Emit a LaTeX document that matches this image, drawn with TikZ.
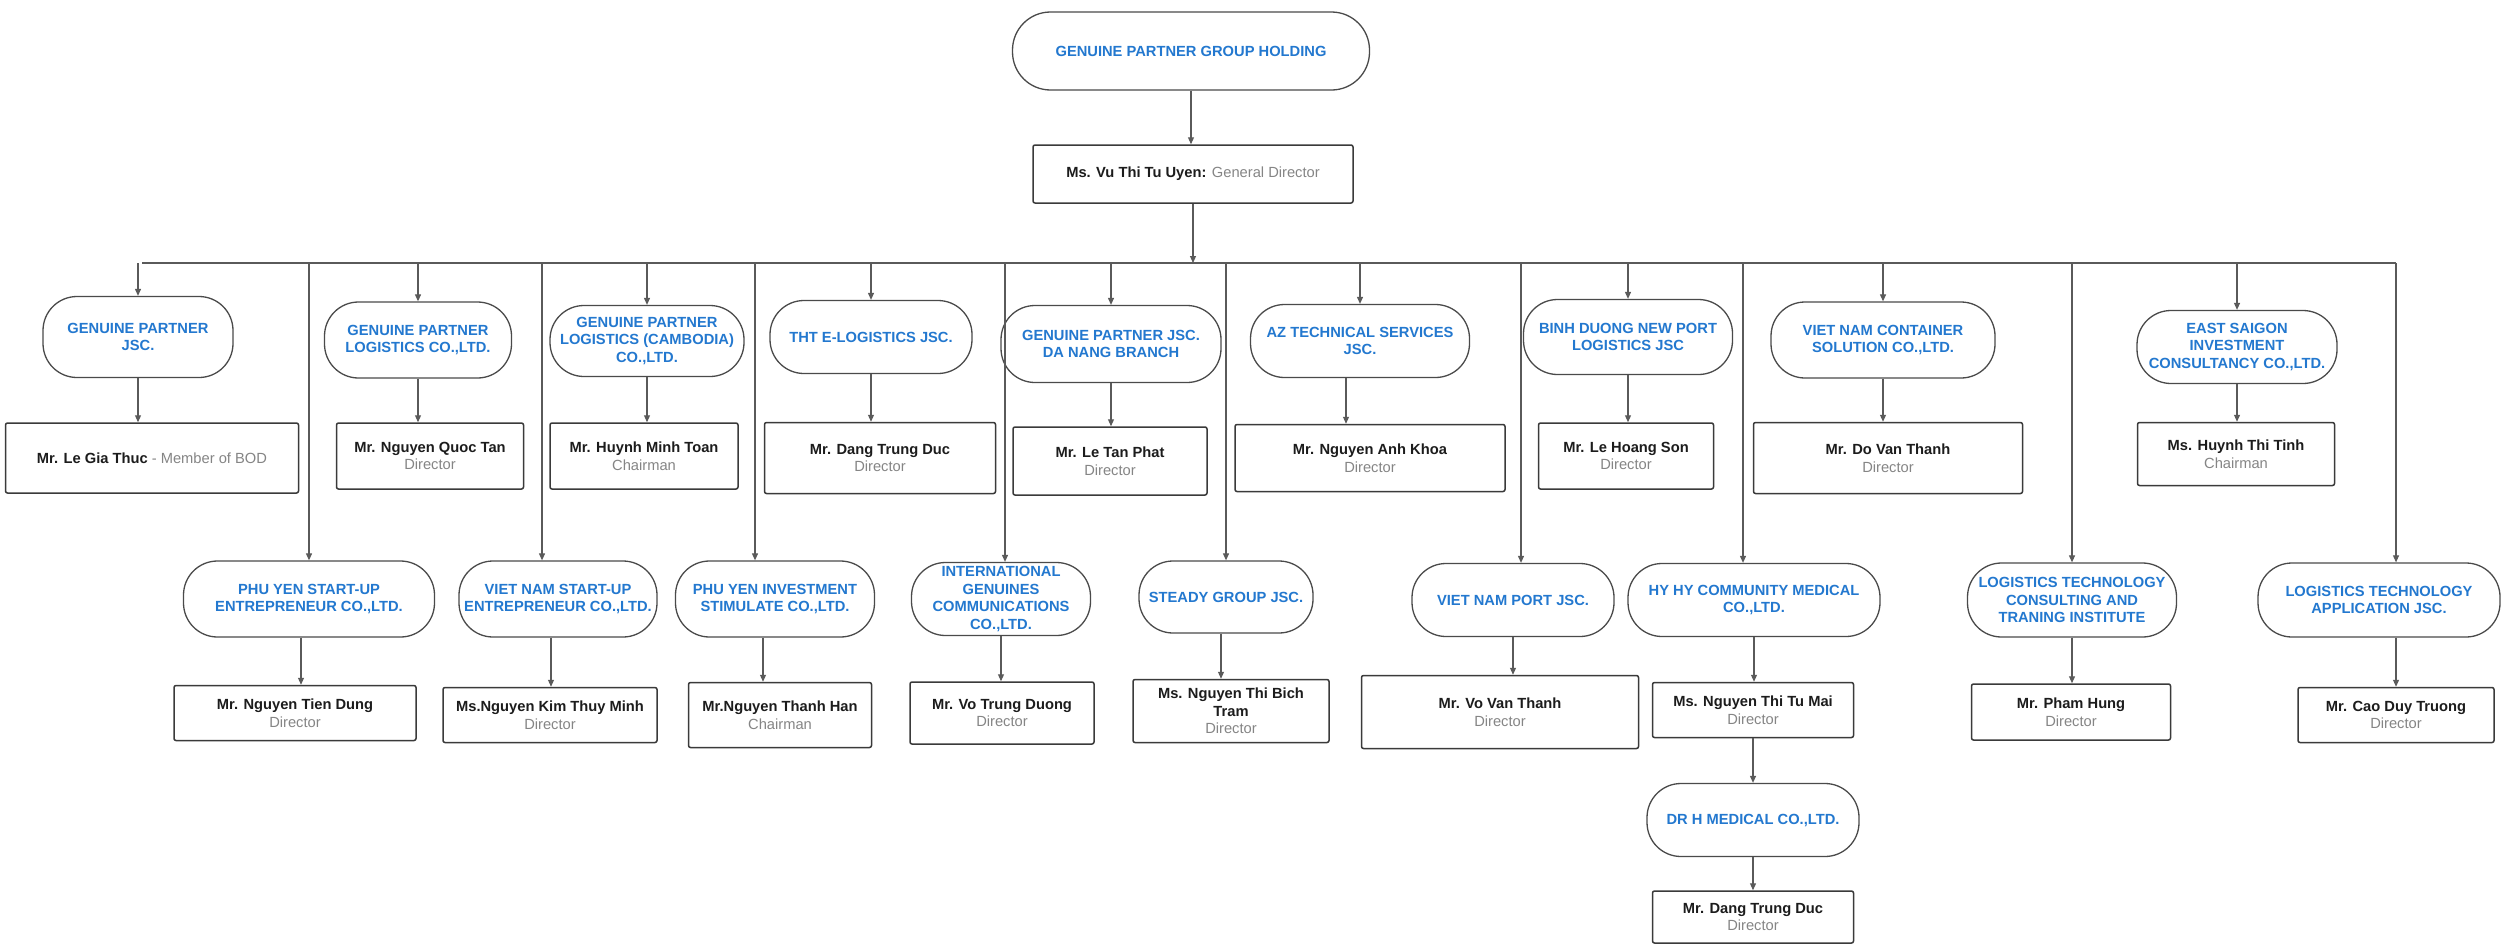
\documentclass[tikz,border=0pt]{standalone}
\usepackage{fontspec}
\setmainfont{Liberation Sans}
\usetikzlibrary{arrows.meta}
\definecolor{hblue}{HTML}{2378CF}
\definecolor{ttl}{HTML}{858585}
\definecolor{nmc}{HTML}{1C1C1C}
\definecolor{edge}{HTML}{3A3A3A}
\definecolor{oedge}{HTML}{4A4A4A}
\definecolor{conn}{HTML}{5A5A5A}
\newcommand\pname[1]{\textbf{#1}}
\newcommand\ptitle[1]{\textcolor{ttl}{#1}}
\begin{document}
\begin{tikzpicture}[x=1pt,y=1pt,
  every node/.style={font=\fontsize{14.7}{17.5}\selectfont, inner sep=0pt},
  org/.style 2 args={draw=oedge, line width=1.3pt, rounded corners=34pt, minimum width=#1pt, minimum height=#2pt, align=center, text=hblue, font=\fontsize{14.7}{17.5}\selectfont\bfseries},
  person/.style 2 args={draw=edge, line width=1.5pt, rounded corners=2pt, minimum width=#1pt, minimum height=#2pt, align=center, text=nmc},
  link/.style={draw=conn, line width=1.1pt},
  arr/.style={link, -{Triangle[length=7pt,width=6pt]}},
]
\fill[white] (0,0) rectangle (2509,-945);
\useasboundingbox (0,0) rectangle (2509,-945);

% top
\node[org={357}{78}, rounded corners=38pt] (top) at (1191,-51) {GENUINE PARTNER GROUP HOLDING};
\node[person={320}{58}] (gd) at (1193,-174) {\pname{Ms. Vu Thi Tu Uyen:} \ptitle{General Director}};
\coordinate (busL) at (142,-263);
\coordinate (busR) at (2396,-263);

% row 1 companies
\node[org={190}{81}] (n1) at (138,-337) {GENUINE PARTNER\\JSC.};
\node[org={187}{76}] (n2) at (418,-340) {GENUINE PARTNER\\LOGISTICS CO.,LTD.};
\node[org={194}{71}] (n3) at (647,-341) {GENUINE PARTNER\\LOGISTICS (CAMBODIA)\\CO.,LTD.};
\node[org={202}{73}] (n4) at (871,-337) {THT E-LOGISTICS JSC.};
\node[org={220}{77}] (n5) at (1111,-344) {GENUINE PARTNER JSC.\\DA NANG BRANCH};
\node[org={219}{73}] (n6) at (1360,-341) {AZ TECHNICAL SERVICES\\JSC.};
\node[org={209}{75}] (n7) at (1628,-337) {BINH DUONG NEW PORT\\LOGISTICS JSC};
\node[org={224}{76}] (n8) at (1883,-340) {VIET NAM CONTAINER\\SOLUTION CO.,LTD.};
\node[org={200}{73}] (n9) at (2237,-347) {EAST SAIGON\\INVESTMENT\\CONSULTANCY CO.,LTD.};

% row 1 people
\node[person={293}{70}] (b1) at (152,-458) {\pname{Mr. Le Gia Thuc} \ptitle{- Member of BOD}};
\node[person={187}{66}] (b2) at (430,-456) {\pname{Mr. Nguyen Quoc Tan}\\\ptitle{Director}};
\node[person={188}{66}] (b3) at (644,-456) {\pname{Mr. Huynh Minh Toan}\\\ptitle{Chairman}};
\node[person={231}{71}] (b4) at (880,-458) {\pname{Mr. Dang Trung Duc}\\\ptitle{Director}};
\node[person={194}{68}] (b5) at (1110,-461) {\pname{Mr. Le Tan Phat}\\\ptitle{Director}};
\node[person={270}{67}] (b6) at (1370,-458) {\pname{Mr. Nguyen Anh Khoa}\\\ptitle{Director}};
\node[person={175}{66}] (b7) at (1626,-456) {\pname{Mr. Le Hoang Son}\\\ptitle{Director}};
\node[person={269}{71}] (b8) at (1888,-458) {\pname{Mr. Do Van Thanh}\\\ptitle{Director}};
\node[person={197}{63}] (b9) at (2236,-454) {\pname{Ms. Huynh Thi Tinh}\\\ptitle{Chairman}};

% row 2 companies
\node[org={251}{76}] (m1) at (309,-599) {PHU YEN START-UP\\ENTREPRENEUR CO.,LTD.};
\node[org={198}{76}] (m2) at (558,-599) {VIET NAM START-UP\\ENTREPRENEUR CO.,LTD.};
\node[org={199}{76}] (m3) at (775,-599) {PHU YEN INVESTMENT\\STIMULATE CO.,LTD.};
\node[org={179}{73}] (m4) at (1001,-599) {INTERNATIONAL\\GENUINES\\COMMUNICATIONS\\CO.,LTD.};
\node[org={174}{72}] (m5) at (1226,-597) {STEADY GROUP JSC.};
\node[org={202}{73}] (m6) at (1513,-600) {VIET NAM PORT JSC.};
\node[org={252}{73}] (m7) at (1754,-600) {HY HY COMMUNITY MEDICAL\\CO.,LTD.};
\node[org={209}{74}] (m8) at (2072,-600) {LOGISTICS TECHNOLOGY\\CONSULTING AND\\TRANING INSTITUTE};
\node[org={242}{74}] (m9) at (2379,-600) {LOGISTICS TECHNOLOGY\\APPLICATION JSC.};

% row 2 people
\node[person={242}{55}] (c1) at (295,-713) {\pname{Mr. Nguyen Tien Dung}\\\ptitle{Director}};
\node[person={214}{55}] (c2) at (550,-715) {\pname{Ms.Nguyen Kim Thuy Minh}\\\ptitle{Director}};
\node[person={183}{65}] (c3) at (780,-715) {\pname{Mr.Nguyen Thanh Han}\\\ptitle{Chairman}};
\node[person={184}{62}] (c4) at (1002,-713) {\pname{Mr. Vo Trung Duong}\\\ptitle{Director}};
\node[person={196}{63}] (c5) at (1231,-711) {\pname{Ms. Nguyen Thi Bich}\\\pname{Tram}\\\ptitle{Director}};
\node[person={277}{73}] (c6) at (1500,-712) {\pname{Mr. Vo Van Thanh}\\\ptitle{Director}};
\node[person={201}{55}] (c7) at (1753,-710) {\pname{Ms. Nguyen Thi Tu Mai}\\\ptitle{Director}};
\node[person={199}{56}] (c8) at (2071,-712) {\pname{Mr. Pham Hung}\\\ptitle{Director}};
\node[person={196}{55}] (c9) at (2396,-715) {\pname{Mr. Cao Duy Truong}\\\ptitle{Director}};

% third level
\node[org={212}{73}] (dr) at (1753,-820) {DR H MEDICAL CO.,LTD.};
\node[person={201}{52}] (d1) at (1753,-917) {\pname{Mr. Dang Trung Duc}\\\ptitle{Director}};

% connectors
\draw[arr] (top.south) -- (top.south |- gd.north);
\draw[arr] (gd.south) -- (gd.south |- busL);
\draw[link] (busL) -- (busR);

\foreach \n in {n1,n2,n3,n4,n5,n6,n7,n8,n9}
  \draw[arr] (\n.north |- busL) -- (\n.north);
\draw[arr] (n1.south) -- (n1.south |- b1.north);
\draw[arr] (n2.south) -- (n2.south |- b2.north);
\draw[arr] (n3.south) -- (n3.south |- b3.north);
\draw[arr] (n4.south) -- (n4.south |- b4.north);
\draw[arr] (n5.south) -- (n5.south |- b5.north);
\draw[arr] ([xshift=-14pt]n6.south) -- ([xshift=-14pt]n6.south |- b6.north);
\draw[arr] (n7.south) -- (n7.south |- b7.north);
\draw[arr] (n8.south) -- (n8.south |- b8.north);
\draw[arr] (n9.south) -- (n9.south |- b9.north);

\draw[arr] (m1.north |- busL) -- (m1.north);
\draw[arr] ([xshift=-16pt]m2.north |- busL) -- ([xshift=-16pt]m2.north);
\draw[arr] ([xshift=-20pt]m3.north |- busL) -- ([xshift=-20pt]m3.north);
\draw[arr] ([xshift=4pt]m4.north |- busL) -- ([xshift=4pt]m4.north);
\draw[arr] (m5.north |- busL) -- (m5.north);
\draw[arr] ([xshift=8pt]m6.north |- busL) -- ([xshift=8pt]m6.north);
\draw[arr] ([xshift=-11pt]m7.north |- busL) -- ([xshift=-11pt]m7.north);
\draw[arr] (m8.north |- busL) -- (m8.north);
\draw[arr] (busR) -- (busR |- m9.north);

\draw[arr] ([xshift=-8pt]m1.south) -- ([xshift=-8pt]m1.south |- c1.north);
\draw[arr] ([xshift=-7pt]m2.south) -- ([xshift=-7pt]m2.south |- c2.north);
\draw[arr] ([xshift=-12pt]m3.south) -- ([xshift=-12pt]m3.south |- c3.north);
\draw[arr] (m4.south) -- (m4.south |- c4.north);
\draw[arr] ([xshift=-5pt]m5.south) -- ([xshift=-5pt]m5.south |- c5.north);
\draw[arr] (m6.south) -- (m6.south |- c6.north);
\draw[arr] (m7.south) -- (m7.south |- c7.north);
\draw[arr] (m8.south) -- (m8.south |- c8.north);
\draw[arr] (c9.north |- m9.south) -- (c9.north);
\draw[arr] (c7.south) -- (dr.north);
\draw[arr] (dr.south) -- (d1.north);
\end{tikzpicture}
\end{document}
